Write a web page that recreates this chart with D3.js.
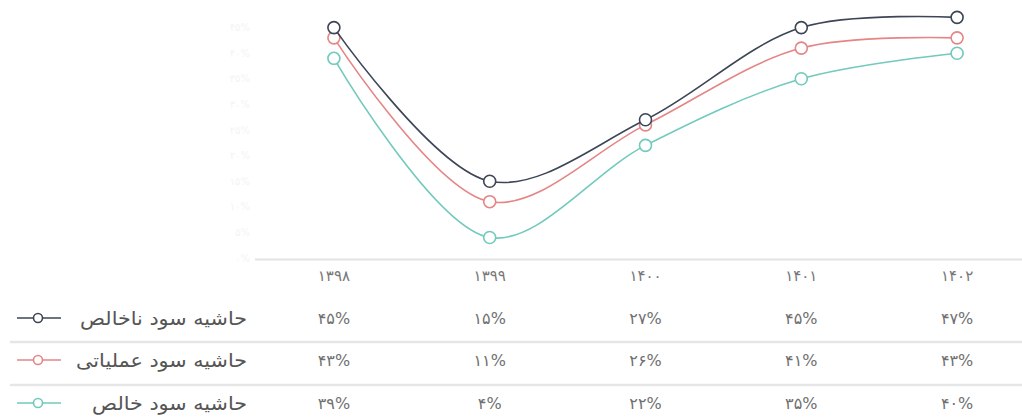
<!DOCTYPE html>
<html>
<head>
<meta charset="utf-8">
<title>حاشیه سود</title>
<script src="https://d3js.org/d3.v7.min.js"></script>
<style>
  body { margin: 0; background: #fff; }
  svg { display: block; font-family: "DejaVu Sans", sans-serif; }
</style>
</head>
<body>
<svg width="1022" height="417"></svg>
<script>
// data
const years = ["1398", "1399", "1400", "1401", "1402"];
const yearLabels = ["۱۳۹۸", "۱۳۹۹", "۱۴۰۰", "۱۴۰۱", "۱۴۰۲"];
const seriesNames = ["حاشیه سود ناخالص", "حاشیه سود عملیاتی", "حاشیه سود خالص"];
const grossMargin = [45, 15, 27, 45, 47];
const operatingMargin = [43, 11, 26, 41, 43];
const netMargin = [39, 4, 22, 35, 40];
const yTicks = [0, 5, 10, 15, 20, 25, 30, 35, 40, 45];

const colors = ["#3d4656", "#e58585", "#72c9bd"];
const series = [grossMargin, operatingMargin, netMargin].map((v, i) => ({
  name: seriesNames[i], values: v, color: colors[i]
}));

const toFa = s => String(s).replace(/\d/g, d => "۰۱۲۳۴۵۶۷۸۹"[d]);

const svg = d3.select("svg");

const x = d3.scalePoint().domain(years).range([256, 1035]).padding(0.5);
const y = d3.scaleLinear().domain([0, 50]).range([258, 2]);

// faint y axis labels (barely visible in the original)
svg.append("g")
  .selectAll("text")
  .data(yTicks)
  .join("text")
  .attr("x", 250)
  .attr("y", d => y(d))
  .attr("dy", "0.35em")
  .attr("text-anchor", "end")
  .attr("font-size", 10)
  .attr("fill", "#f4f4f4")
  .text(d => toFa(d) + "%");

// x axis line
svg.append("line")
  .attr("x1", 255).attr("x2", 1022)
  .attr("y1", 259.5).attr("y2", 259.5)
  .attr("stroke", "#e3e3e3").attr("stroke-width", 2);

// year labels
svg.append("g")
  .selectAll("text")
  .data(years)
  .join("text")
  .attr("x", d => x(d))
  .attr("y", 276)
  .attr("dy", "0.35em")
  .attr("text-anchor", "middle")
  .attr("font-size", 15)
  .attr("fill", "#777")
  .text((d, i) => yearLabels[i]);

// lines
const line = d3.line()
  .x((d, i) => x(years[i]))
  .y(d => y(d))
  .curve(d3.curveCatmullRom.alpha(0.5));

const sg = svg.append("g")
  .selectAll("g")
  .data(series.slice().reverse())
  .join("g");

sg.append("path")
  .attr("d", d => line(d.values))
  .attr("fill", "none")
  .attr("stroke", d => d.color)
  .attr("stroke-width", 1.6);

sg.selectAll("circle")
  .data(d => d.values.map(v => ({ v, color: d.color })))
  .join("circle")
  .attr("cx", (d, i) => x(years[i]))
  .attr("cy", d => y(d.v))
  .attr("r", 6)
  .attr("fill", "#fff")
  .attr("stroke", d => d.color)
  .attr("stroke-width", 1.6);

// table
const rowY = [318, 360, 403];
const sepY = [342, 385];

svg.append("g")
  .selectAll("line")
  .data(sepY)
  .join("line")
  .attr("x1", 10).attr("x2", 1022)
  .attr("y1", d => d).attr("y2", d => d)
  .attr("stroke", "#e6e6e6").attr("stroke-width", 2.5);

const rows = svg.append("g")
  .selectAll("g")
  .data(series)
  .join("g")
  .attr("transform", (d, i) => `translate(0,${rowY[i]})`);

// legend symbol
rows.append("line")
  .attr("x1", 17).attr("x2", 61)
  .attr("y1", 0).attr("y2", 0)
  .attr("stroke", d => d.color).attr("stroke-width", 1.6);
rows.append("circle")
  .attr("cx", 38).attr("cy", 0).attr("r", 4.5)
  .attr("fill", "#fff")
  .attr("stroke", d => d.color).attr("stroke-width", 1.6);

rows.append("text")
  .attr("transform", "translate(247,0) scale(1.09,1)")
  .attr("dy", "0.35em")
  .attr("text-anchor", "end")
  .attr("font-size", 19)
  .attr("fill", "#555")
  .text(d => d.name);

rows.selectAll("text.val")
  .data(d => d.values)
  .join("text")
  .attr("class", "val")
  .attr("x", (d, i) => x(years[i]))
  .attr("y", 0)
  .attr("dy", "0.35em")
  .attr("text-anchor", "middle")
  .attr("font-size", 16)
  .attr("fill", "#707070")
  .text(d => toFa(d) + "%");
</script>
</body>
</html>
